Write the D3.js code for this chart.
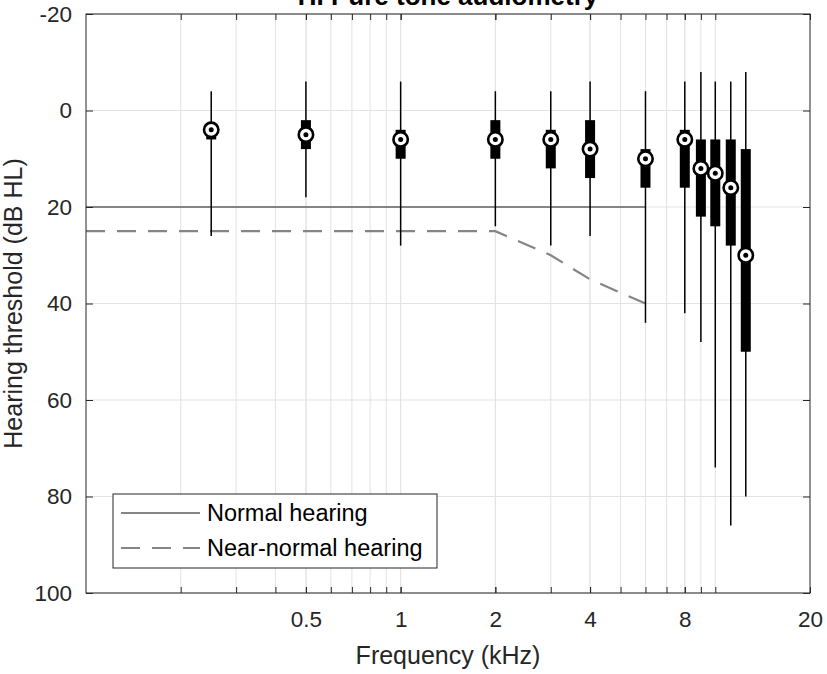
<!DOCTYPE html>
<html lang="en">
<head>
<meta charset="UTF-8" />
<title>HI Pure tone audiometry</title>
<script src="https://d3js.org/d3.v7.min.js"></script>
<style>
  html, body { margin: 0; padding: 0; background: #fff; }
  svg { font-family: "Liberation Sans", Arial, Helvetica, sans-serif; }
  .axis path { display: none; }
  .axis line { stroke: #262626; }
  .axis text { fill: #262626; font-size: 22.5px; }
</style>
</head>
<body>
<svg id="chart"></svg>
<script>
// Data (dB HL per frequency)
const freqs = [0.25, 0.5, 1, 2, 3, 4, 6, 8, 9, 10, 11.2, 12.5];
const medians = [4, 5, 6, 6, 6, 8, 10, 6, 12, 13, 16, 30];
const q1 = [3, 2, 4, 2, 4, 2, 8, 4, 6, 6, 6, 8];
const q3 = [6, 8, 10, 10, 12, 14, 16, 16, 22, 24, 28, 50];
const whiskerLow = [-4, -6, -6, -4, -4, -6, -4, -6, -8, -6, -6, -8];
const whiskerHigh = [26, 18, 28, 24, 28, 26, 44, 42, 48, 74, 86, 80];

const normalFreqs = [0.1, 6];
const normalLevels = [20, 20];
const nearFreqs = [0.1, 2, 3, 4, 6];
const nearLevels = [25, 25, 30, 35, 40];

const xTicks = [0.5, 1, 2, 4, 8, 20];
const xMinor = [0.2, 0.3, 0.4, 0.5, 0.6, 0.7, 0.8, 0.9, 1, 2, 3, 4, 5, 6, 7, 8, 9, 10];
const yTicks = [-20, 0, 20, 40, 60, 80, 100];
const legendLabels = ["Normal hearing", "Near-normal hearing"];

const W = 827, H = 674;
const margin = { top: 14, right: 17, bottom: 81, left: 86 };
const width = W - margin.left - margin.right;
const height = H - margin.top - margin.bottom;

const svg = d3.select("#chart").attr("width", W).attr("height", H);
const g = svg.append("g").attr("transform", `translate(${margin.left},${margin.top})`);

const x = d3.scaleLog().domain([0.1, 20]).range([0, width]);
const y = d3.scaleLinear().domain([-20, 100]).range([0, height]);

// grid
g.append("g").selectAll("line")
  .data(xMinor.concat(xTicks).filter((d) => d < 20))
  .join("line")
  .attr("x1", (d) => x(d)).attr("x2", (d) => x(d))
  .attr("y1", 0).attr("y2", height)
  .attr("stroke", "#e3e3e3").attr("stroke-width", 1);
g.append("g").selectAll("line")
  .data(yTicks)
  .join("line")
  .attr("x1", 0).attr("x2", width)
  .attr("y1", (d) => y(d)).attr("y2", (d) => y(d))
  .attr("stroke", "#e3e3e3").attr("stroke-width", 1);

g.append("clipPath").attr("id", "clip")
  .append("rect").attr("width", width).attr("height", height);

// reference lines
const line = d3.line().x((d) => x(d[0])).y((d) => y(d[1]));
g.append("path")
  .attr("clip-path", "url(#clip)")
  .attr("d", line(d3.zip(normalFreqs, normalLevels)))
  .attr("fill", "none").attr("stroke", "#858585").attr("stroke-width", 2.2);
g.append("path")
  .attr("clip-path", "url(#clip)")
  .attr("d", line(d3.zip(nearFreqs, nearLevels)))
  .attr("fill", "none").attr("stroke", "#858585").attr("stroke-width", 2.2)
  .attr("stroke-dasharray", "19,12");

// boxplots
const rows = freqs.map((f, i) => ({
  f, med: medians[i], lo: q1[i], hi: q3[i], wl: whiskerLow[i], wh: whiskerHigh[i]
}));
const box = g.append("g").selectAll("g").data(rows).join("g")
  .attr("transform", (d) => `translate(${x(d.f)},0)`);
box.append("line")
  .attr("y1", (d) => y(d.wl)).attr("y2", (d) => y(d.wh))
  .attr("stroke", "#000").attr("stroke-width", 1.5);
box.append("rect")
  .attr("x", -5).attr("width", 10)
  .attr("y", (d) => y(d.lo)).attr("height", (d) => y(d.hi) - y(d.lo))
  .attr("fill", "#000");
box.append("circle")
  .attr("cy", (d) => y(d.med)).attr("r", 7.2)
  .attr("fill", "#fff").attr("stroke", "#000").attr("stroke-width", 2.6);
box.append("circle")
  .attr("cy", (d) => y(d.med)).attr("r", 2.5)
  .attr("fill", "#000");

// axes
const fmt = (d) => String(d);
g.append("g").attr("class", "axis")
  .attr("transform", `translate(0,${height})`)
  .call(d3.axisBottom(x).tickValues(xTicks).tickFormat(fmt).tickSize(-6).tickPadding(18));
g.append("g").attr("class", "axis")
  .attr("transform", `translate(0,${height})`)
  .call(d3.axisBottom(x).tickValues(xMinor).tickFormat("").tickSize(-6));
g.append("g").attr("class", "axis")
  .call(d3.axisTop(x).tickValues(xMinor.concat(xTicks)).tickFormat("").tickSize(-6));
g.append("g").attr("class", "axis")
  .call(d3.axisLeft(y).tickValues(yTicks).tickFormat(fmt).tickSize(-7).tickPadding(14));
g.append("g").attr("class", "axis")
  .attr("transform", `translate(${width},0)`)
  .call(d3.axisRight(y).tickValues(yTicks).tickFormat("").tickSize(-7));

g.append("rect")
  .attr("width", width).attr("height", height)
  .attr("fill", "none").attr("stroke", "#262626").attr("stroke-width", 1);

// labels
svg.append("text")
  .attr("x", margin.left + width / 2).attr("y", 5)
  .attr("text-anchor", "middle")
  .attr("font-size", "26px").attr("font-weight", "bold").attr("fill", "#000")
  .text("HI Pure tone audiometry");
svg.append("text")
  .attr("x", margin.left + width / 2).attr("y", 664)
  .attr("text-anchor", "middle")
  .attr("font-size", "25px").attr("fill", "#262626")
  .text("Frequency (kHz)");
svg.append("text")
  .attr("transform", `translate(22,${margin.top + height / 2}) rotate(-90)`)
  .attr("text-anchor", "middle")
  .attr("font-size", "25px").attr("fill", "#262626")
  .text("Hearing threshold (dB HL)");

// legend
const legend = svg.append("g").attr("transform", "translate(113,494)");
legend.append("rect")
  .attr("width", 324).attr("height", 74)
  .attr("fill", "#fff").attr("stroke", "#262626").attr("stroke-width", 1);
const item = legend.selectAll("g.item").data(legendLabels).join("g")
  .attr("class", "item")
  .attr("transform", (d, i) => `translate(0,${19 + i * 35})`);
item.append("line")
  .attr("x1", 8).attr("x2", 87)
  .attr("stroke", "#858585").attr("stroke-width", 2.2)
  .attr("stroke-dasharray", (d, i) => (i === 1 ? "19,12" : null));
item.append("text")
  .attr("x", 94).attr("dy", "0.35em")
  .attr("font-size", "23.5px").attr("fill", "#000")
  .text((d) => d);
</script>
</body>
</html>
